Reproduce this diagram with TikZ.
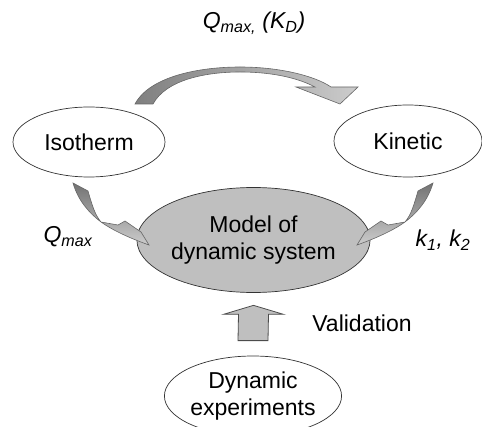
\documentclass[tikz,border=0pt]{standalone}
\usepackage{fontspec}
\setmainfont{Liberation Sans}
\usetikzlibrary{shapes.geometric,calc}
\begin{document}
\begin{tikzpicture}[x=1pt,y=-1pt,
  lbl/.style={font=\fontsize{23}{28}\selectfont\itshape, inner sep=0pt},
  plain/.style={font=\fontsize{23}{28}\selectfont, inner sep=0pt},
  oval/.style={ellipse, draw=black!80, line width=0.7pt, inner sep=0pt,
    font=\fontsize{23}{27}\selectfont, align=center},
  ribbon/.style={draw=black!60, line width=0.6pt},
  blockarrow/.style={draw=black!70, line width=0.8pt, fill=black!25}]
\useasboundingbox (0,0) rectangle (482,427);

% nodes
\node[oval, fill=white, minimum width=152pt, minimum height=70pt] (iso) at (89,142) {Isotherm};
\node[oval, fill=white, minimum width=148pt, minimum height=72pt] (kin) at (408,141) {Kinetic};
\node[oval, fill=black!25, minimum width=189pt, minimum height=105pt] (model) at (253.5,240) {Model of\\dynamic system};
\node[oval, fill=white, minimum width=160pt, minimum height=80pt] (exp) at (253,396) {Dynamic\\experiments};

% labels
\node[lbl] (ltop) at (254,23) {Q\textsubscript{max,} (K\textsubscript{D})};
\node[lbl] (lq) at (68,237) {Q\textsubscript{max}};
\node[lbl] (lk) at (443,240) {k\textsubscript{1}, k\textsubscript{2}};
\node[plain] (lval) at (362,323) {Validation};

% top curved arrow: Isotherm -> Kinetic
\path[ribbon, left color=black!50, right color=black!20]
  (135,104) .. controls (150,76) and (200,67) .. (240,67)
  .. controls (280,67) and (315,76) .. (331,87)
  -- (358,87) -- (340,104) -- (296,87) -- (315,87)
  .. controls (300,79) and (275,72) .. (240,72)
  .. controls (205,72) and (166,80) .. (153,104) -- cycle;

% left curved arrow: Isotherm -> Model
\path[ribbon, top color=black!55, bottom color=black!20]
  (73,183) -- (88,191) .. controls (92,205) and (95,215) .. (101,222)
  -- (118,225) -- (125,221) -- (141,232) -- (149,245)
  .. controls (135,240) and (115,232) .. (101,222)
  .. controls (88,212) and (78,200) .. (73,183) -- cycle;

% right curved arrow: Kinetic -> Model
\path[ribbon, top color=black!55, bottom color=black!20]
  (433,183) -- (418,191) .. controls (414,205) and (411,215) .. (405,222)
  -- (388,225) -- (381,221) -- (365,232) -- (357,245)
  .. controls (371,240) and (391,232) .. (405,222)
  .. controls (418,212) and (428,200) .. (433,183) -- cycle;

% up block arrow: experiments -> model
\coordinate (tip) at ($(model.south)+(0,12.5)$);
\coordinate (base) at ($(exp.north)+(0,-15)$);
\draw[blockarrow]
  ($(base)+(-15,0)$) -- ($(tip)+(-15,9)$) -- ($(tip)+(-30,9)$) -- (tip)
  -- ($(tip)+(30,9)$) -- ($(tip)+(15,9)$) -- ($(base)+(15,0)$) -- cycle;
\end{tikzpicture}
\end{document}
